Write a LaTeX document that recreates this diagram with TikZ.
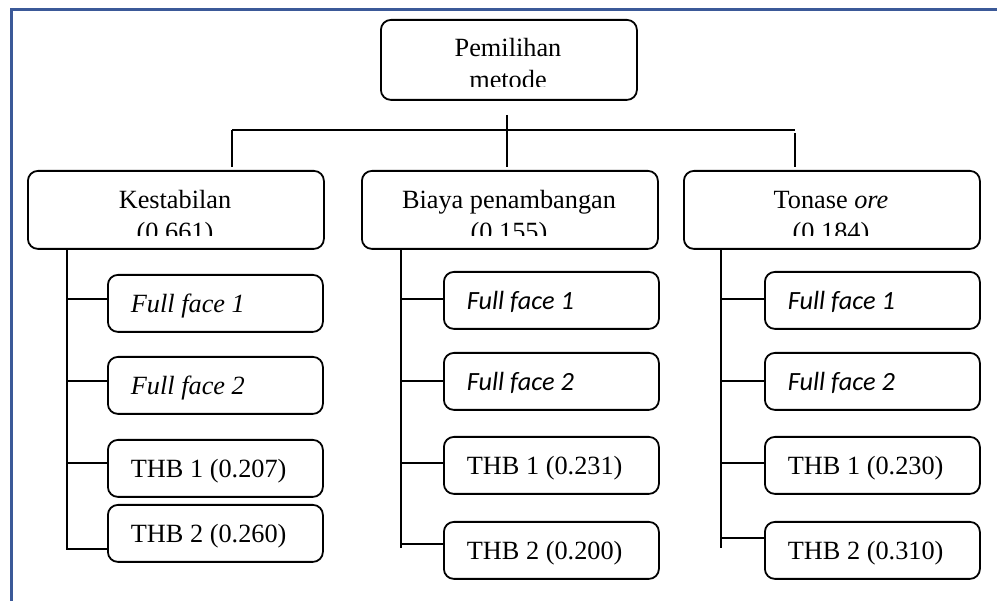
\documentclass[tikz,border=0pt]{standalone}
\usepackage{fontspec}
\setmainfont{Liberation Serif}
\newfontfamily\calibri{Carlito}
\usetikzlibrary{positioning}
\definecolor{frameblue}{RGB}{59,89,152}
\newcommand\plainspaces{\spaceskip=0pt\relax\xspaceskip=0pt\relax}
\tikzset{
  box/.style={draw, rounded corners=10pt, line width=1.8pt, anchor=north west, inner sep=0pt},
  critbox/.style={box, minimum width=296pt, minimum height=78pt},
  altbox/.style={box, minimum width=215pt, minimum height=57pt, text width=169pt,
    inner xsep=23pt, align=left, text height=18pt, text depth=0pt,
    execute at begin node=\plainspaces},
  link/.style={line width=1.8pt},
  textline/.style={anchor=base, inner sep=0pt},
}

\begin{document}
\begin{tikzpicture}[x=1pt, y=-1pt, font=\fontsize{26.3pt}{32pt}\selectfont]
\useasboundingbox (0,0) rectangle (997,601);
\draw[line width=3pt, frameblue] (11,601) -- (11,10) -- (997,10);

% goal and criteria
\node[box, minimum width=256pt, minimum height=80pt] (goal) at (380,19) {};
\node[critbox] (kest) at (27,170) {};
\node[critbox] (biaya) at (361,170) {};
\node[critbox] (tonase) at (683,170) {};

\node[textline] (goal1) at (508,57) {Pemilihan};
\node[textline] (kest1) at (175,209) {Kestabilan};
\node[textline] (biaya1) at (509,209) {Biaya penambangan};
\node[textline] (tonase1) at (831,209) {Tonase \textit{ore}};
\begin{scope}
\clip (goal.north west) rectangle ([yshift=14pt]goal.south east)
      (kest.north west) rectangle ([yshift=14pt]kest.south east)
      (biaya.north west) rectangle ([yshift=14pt]biaya.south east)
      (tonase.north west) rectangle ([yshift=14pt]tonase.south east);
\node[textline] (goal2) at (508,89) {metode};
\node[textline] (kest2) at (175,241) {(0.661)};
\node[textline] (biaya2) at (509,241) {(0.155)};
\node[textline] (tonase2) at (831,241) {(0.184)};
\end{scope}

% bus between goal and criteria
\coordinate (busL) at (232,130);
\coordinate (busR) at (795,130);
\draw[link] (busL) -- (busR);
\draw[link] (507,115) -- (507,167);
\draw[link] (busL) -- (232,167);
\draw[link] (795,133) -- (795,167);

% alternatives
\node[altbox] (k1) at (107,274) {\itshape Full face 1};
\node[altbox] (k2) at (107,356) {\itshape Full face 2};
\node[altbox] (k3) at (107,439) {THB 1 (0.207)};
\node[altbox] (k4) at (107,504) {THB 2 (0.260)};

\node[altbox] (b1) at (443,271) {\calibri\itshape Full face 1};
\node[altbox] (b2) at (443,352) {\calibri\itshape Full face 2};
\node[altbox] (b3) at (443,436) {THB 1 (0.231)};
\node[altbox] (b4) at (443,521) {THB 2 (0.200)};

\node[altbox] (t1) at (764,271) {\calibri\itshape Full face 1};
\node[altbox] (t2) at (764,352) {\calibri\itshape Full face 2};
\node[altbox] (t3) at (764,436) {THB 1 (0.230)};
\node[altbox] (t4) at (764,521) {THB 2 (0.310)};

\coordinate (kv) at (67,549);
\coordinate (bv) at (401,548);
\coordinate (tv) at (721,548);
\draw[link] (kv |- kest.south) -- (kv) -- (kv -| k4.west);
\draw[link] (bv |- biaya.south) -- (bv);
\draw[link] (tv |- tonase.south) -- (tv);

\foreach \n/\y in {k1/299, k2/381, k3/463}
  \draw[link] (kv |- 0,\y) -- (\n.west |- 0,\y);
\foreach \n/\y in {b1/299, b2/381, b3/463, b4/544}
  \draw[link] (bv |- 0,\y) -- (\n.west |- 0,\y);
\foreach \n/\y in {t1/299, t2/381, t3/463, t4/538}
  \draw[link] (tv |- 0,\y) -- (\n.west |- 0,\y);
\end{tikzpicture}
\end{document}
